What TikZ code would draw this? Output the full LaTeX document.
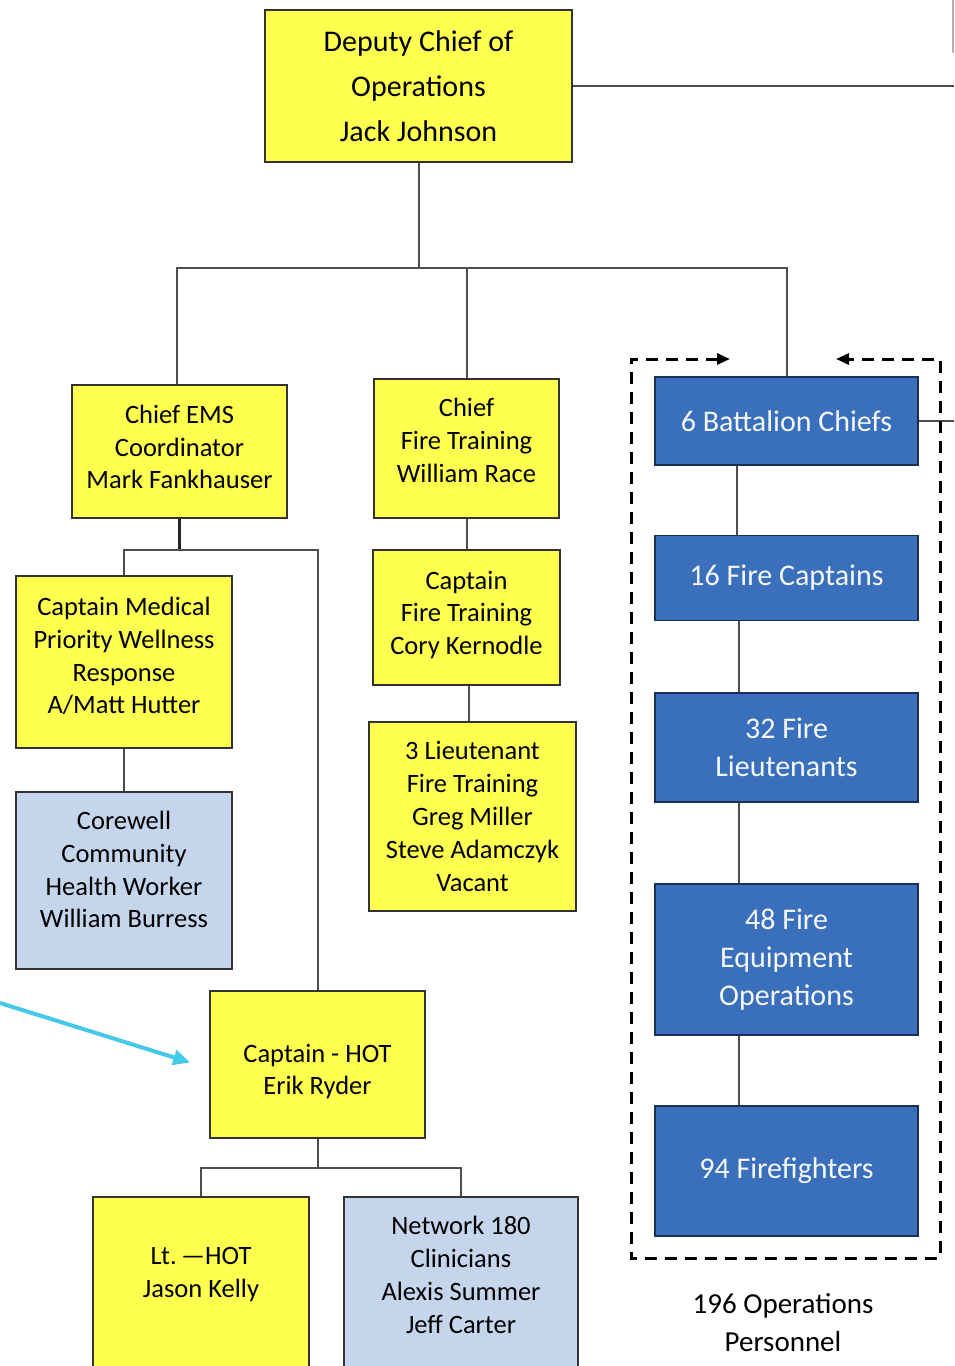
\documentclass[tikz,border=0pt]{standalone}
\usepackage{fontspec}
\setmainfont{Carlito}
\usetikzlibrary{arrows.meta}
\definecolor{chartyellow}{HTML}{FFFF50}
\definecolor{chartpale}{HTML}{C5D5EC}
\definecolor{chartblue}{HTML}{3A6FBC}
\definecolor{chartnavy}{HTML}{1B2F55}
\definecolor{chartline}{HTML}{4D4D4D}
\definecolor{chartcyan}{HTML}{45C9E9}
\begin{document}
\begin{tikzpicture}[x=1pt, y=-1pt,
  ytext/.style={align=center, inner sep=0pt, font=\fontsize{26.5}{32.8}\selectfont},
  ybox/.style={draw=black!80, line width=1.5pt, fill=chartyellow, inner sep=2pt, align=center,
    font=\fontsize{26.5}{32.8}\selectfont},
  pbox/.style={ybox, fill=chartpale},
  bbox/.style={draw=chartnavy, line width=1.5pt, fill=chartblue, text=white!95!chartblue, inner sep=2pt,
    align=center, minimum width=263pt, font=\fontsize{30}{38}\selectfont},
  conn/.style={draw=chartline, line width=2pt},
  dashbox/.style={line width=3pt, dash pattern=on 12pt off 8pt}]
  \clip (0,0) rectangle (954,1366);
  \coordinate (edge) at (954,0);
  \coordinate (spine) at (739,0);
  % top
  \node[ybox, minimum width=307pt, minimum height=152pt, font=\fontsize{30}{45}\selectfont] (DCO) at (418.5,86)
    {Deputy Chief of\\Operations\\Jack Johnson};
  \draw[conn] (DCO.east) -- (DCO.east -| edge);
  \draw[draw=black!30, line width=1.5pt] (953,0) -- (953,53);
  % second row
  \node[ybox, minimum width=215pt, minimum height=133pt,
    label={[ytext, yshift=4.5pt]center:Chief EMS\\Coordinator\\Mark Fankhauser}] (EMS) at (179.5,451.5) {};
  \node[ybox, minimum width=185pt, minimum height=139pt,
    label={[ytext, yshift=8pt]center:Chief\\Fire Training\\William Race}] (FT) at (466.5,448.5) {};
  \node[ybox, minimum width=187pt, minimum height=135pt,
    label={[ytext, yshift=2.5pt]center:Captain\\Fire Training\\Cory Kernodle}] (CFT) at (466.5,617.5) {};
  \node[ybox, minimum width=207pt, minimum height=189pt] (LFT) at (472.5,816.5)
    {3 Lieutenant\\Fire Training\\Greg Miller\\Steve Adamczyk\\Vacant};
  \node[ybox, minimum width=216pt, minimum height=172pt,
    label={[ytext, yshift=6pt]center:Captain Medical\\Priority Wellness\\Response\\A/Matt Hutter}] (CMP) at (124,662) {};
  \node[pbox, minimum width=216pt, minimum height=177pt,
    label={[ytext, yshift=11pt]center:Corewell\\Community\\Health Worker\\William Burress}] (CW) at (124,880.5) {};
  \node[ybox, minimum width=215pt, minimum height=147pt,
    label={[ytext, yshift=-7pt]center:Captain - HOT\\Erik Ryder}] (HOT) at (317.5,1064.5) {};
  \node[ybox, anchor=north, minimum width=216pt, minimum height=220pt,
    label={[ytext, yshift=32pt]center:Lt.\,—HOT\\Jason Kelly}] (LTH) at (201,1196) {};
  \node[pbox, anchor=north, minimum width=234pt, minimum height=220pt,
    label={[ytext, yshift=32pt]center:Network 180\\Clinicians\\Alexis Summer\\Jeff Carter}] (NET) at (461,1196) {};
  % operations column
  \node[bbox, minimum height=88pt] (BC) at (786.5,421) {6 Battalion Chiefs};
  \node[bbox, minimum height=85pt] (FC) at (786.5,578) {16 Fire Captains};
  \node[bbox, minimum height=109pt] (FL) at (786.5,747.5) {32 Fire\\Lieutenants};
  \node[bbox, minimum height=151pt] (FE) at (786.5,959.5) {48 Fire\\Equipment\\Operations};
  \node[bbox, minimum height=130pt] (FF) at (786.5,1171) {94 Firefighters};
  \node[align=center, font=\fontsize{29}{38}\selectfont] (TOTAL) at (783,1323) {196 Operations\\Personnel};
  % connectors
  \draw[conn] (DCO.south) -- ++(0,105) coordinate (hub);
  \draw[conn] (EMS.north -| 177,0) |- (hub) -| (BC.north);
  \draw[conn] (FT.north) -- (FT.north |- hub);
  \draw[conn] (FT.south) -- (CFT.north);
  \draw[conn] (CFT.south -| 469,0) -- (LFT.north -| 469,0);
  \draw[draw=black!85, line width=2.6pt] (EMS.south) -- ++(0,31) coordinate (emshub);
  \draw[conn] (CMP.north) |- (emshub) -| (HOT.north);
  \draw[conn] (CMP.south) -- (CW.north);
  \draw[conn] (HOT.south) -- ++(0,29) coordinate (hothub);
  \draw[conn] (LTH.north) |- (hothub) -| (NET.north);
  \draw[conn] (BC.south -| 737,0) -- (FC.north -| 737,0);
  \draw[conn] (FC.south -| spine) -- (FL.north -| spine);
  \draw[conn] (FL.south -| spine) -- (FE.north -| spine);
  \draw[conn] (FE.south -| spine) -- (FF.north -| spine);
  \draw[conn] (BC.east) -- (BC.east -| edge);
  % dashed frame
  \draw[dashbox, {Triangle[length=13pt,width=11pt]}-{Triangle[length=13pt,width=11pt]}]
    (730,359) -- (631,359) -- (631,1258) -- (940,1258) -- (940,359) -- (836,359);
  % pointer
  \coordinate (pointer) at (0,1003);
  \draw[chartcyan, line width=4pt, -{Triangle[length=17pt,width=15pt]}] (pointer) -- ([xshift=-19pt,yshift=2pt]HOT.west);
\end{tikzpicture}
\end{document}
